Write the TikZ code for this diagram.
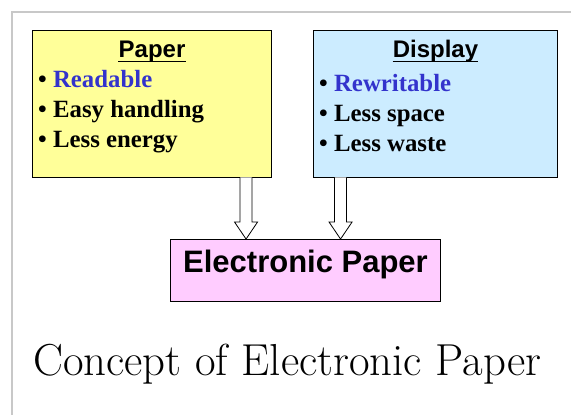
\documentclass[tikz,border=0pt]{standalone}
\usepackage{fontspec}
\newfontfamily\arialf{Liberation Sans}
\newfontfamily\timesf{Liberation Serif}
\usetikzlibrary{calc}
\definecolor{frameg}{HTML}{C8C8C8}
\definecolor{yel}{HTML}{FFFF99}
\definecolor{sky}{HTML}{CCECFF}
\definecolor{pinkf}{HTML}{FFCCFF}
\definecolor{blu}{HTML}{3333CC}
\tikzset{
  box/.style={draw=black, line width=0.9pt},
  title/.style={anchor=base, inner sep=0pt, font=\arialf\bfseries\fontsize{24}{24}\selectfont},
  item/.style={anchor=base west, inner sep=0pt, font=\timesf\bfseries\fontsize{24.8}{24.8}\selectfont},
  blockarrow/.style={draw=black, fill=white, line width=0.8pt, line join=miter},
  uline/.style={line width=1.4pt}
}
\begin{document}
\begin{tikzpicture}[x=1pt,y=-1pt]
\useasboundingbox (0,0) rectangle (571,415);
\fill[white] (0,0) rectangle (571,415);
\draw[frameg, line width=1.7pt] (11.8,415) -- (11.8,11.8) -- (571,11.8);
% boxes
\node[box, fill=yel, minimum width=239pt, minimum height=147pt, inner sep=0pt] (paper) at (151.5,103.5) {};
\node[box, fill=sky, minimum width=244pt, minimum height=147pt, inner sep=0pt] (display) at (435,103.5) {};
\node[box, fill=pinkf, minimum width=270pt, minimum height=62pt, inner sep=0pt] (ep) at (305,270.5) {};
% titles
\node[title] (ptitle) at (152,57.5) {Paper};
\draw[uline] ([yshift=-3.8pt]ptitle.base west) -- ([yshift=-3.8pt]ptitle.base east);
\node[title] (dtitle) at (435.5,57.5) {Display};
\draw[uline] ([yshift=-3.8pt]dtitle.base west) -- ([yshift=-3.8pt]dtitle.base east);
% items
\node[item] (p1) at (38,87) {• \textcolor{blu}{Readable}};
\node[item] (p2) at (38,117) {• Easy handling};
\node[item] (p3) at (38,147) {• Less energy};
\node[item] (d1) at (319,91.5) {• \textcolor{blu}{Rewritable}};
\node[item] (d2) at (319,121.5) {• Less space};
\node[item] (d3) at (319,151.5) {• Less waste};
% central label
\node[anchor=base, inner sep=0pt, font=\arialf\bfseries\fontsize{31}{31}\selectfont] (eplabel) at (305.5,272.5) {Electronic Paper};
% arrows
\path (paper.south west) ++(214.5,0) coordinate (a1top);
\coordinate (a1tip) at (a1top |- ep.north);
\draw[blockarrow] ($(a1top)+(-6,0)$) -- ($(a1tip)+(-6,-17)$) -- ($(a1tip)+(-11.5,-17)$) -- (a1tip) -- ($(a1tip)+(11.5,-17)$) -- ($(a1tip)+(6,-17)$) -- ($(a1top)+(6,0)$);
\path (display.south west) ++(28,0) coordinate (a2top);
\coordinate (a2tip) at (a2top |- ep.north);
\draw[blockarrow] ($(a2top)+(-6,0)$) -- ($(a2tip)+(-6,-17)$) -- ($(a2tip)+(-11.5,-17)$) -- (a2tip) -- ($(a2tip)+(11.5,-17)$) -- ($(a2tip)+(6,-17)$) -- ($(a2top)+(6,0)$);
% caption
\node[anchor=base west, inner sep=0pt, font=\fontsize{44.8}{44.8}\selectfont] (caption) at (33,375) {Concept of Electronic Paper};
\end{tikzpicture}
\end{document}
